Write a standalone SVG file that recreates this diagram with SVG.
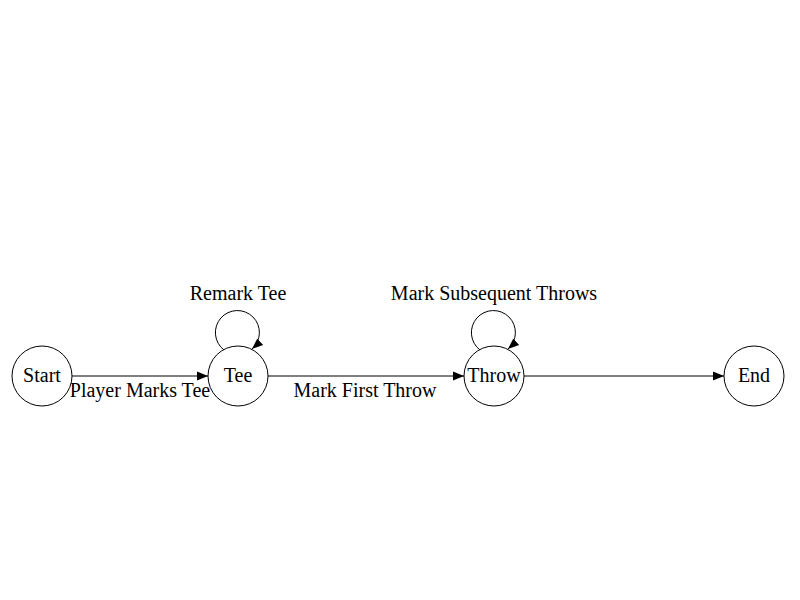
<svg xmlns="http://www.w3.org/2000/svg" width="800" height="600" viewBox="0 0 800 600">
<style>
.node circle{fill:#fff;stroke:#000;stroke-width:1}
text{font-family:"Liberation Serif","Times New Roman",serif;font-size:20px;fill:#000;text-anchor:middle}
.edge{fill:none;stroke:#000;stroke-width:1;marker-end:url(#arr)}
</style>
<defs>
<marker id="arr" viewBox="0 0 10 10" refX="10" refY="5" markerWidth="11" markerHeight="11" markerUnits="userSpaceOnUse" orient="auto">
<path d="M0,1 L10,5 L0,9 Z" fill="#000"/>
</marker>
</defs>
<rect width="800" height="600" fill="#fff"/>
<g id="connectors">
<path class="edge" d="M72,376 L208,376"/>
<path class="edge" d="M268,376 L464,376"/>
<path class="edge" d="M524,376 L724,376"/>
<path class="edge" d="M224,350 A22,22 0 1 1 252,349"/>
<path class="edge" d="M480,350 A22,22 0 1 1 508,349"/>
<text x="140" y="397">Player Marks Tee</text>
<text x="365" y="397">Mark First Throw</text>
<text x="238" y="300">Remark Tee</text>
<text x="494" y="300">Mark Subsequent Throws</text>
</g>
<g id="node-start" class="node"><circle cx="42" cy="376" r="30"/><text x="42" y="382">Start</text></g>
<g id="node-tee" class="node"><circle cx="238" cy="376" r="30"/><text x="238" y="382">Tee</text></g>
<g id="node-throw" class="node"><circle cx="494" cy="376" r="30"/><text x="494" y="382">Throw</text></g>
<g id="node-end" class="node"><circle cx="754" cy="376" r="30"/><text x="754" y="382">End</text></g>
</svg>
